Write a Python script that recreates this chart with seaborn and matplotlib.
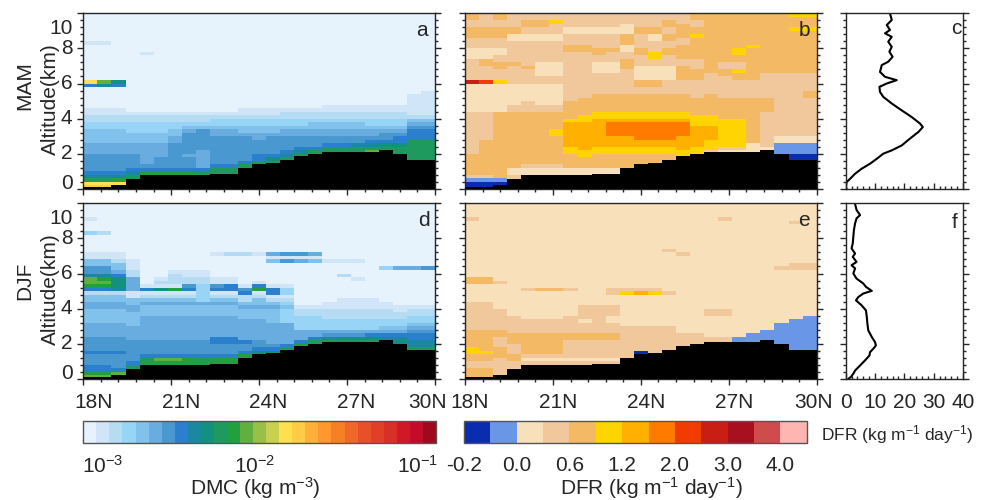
import numpy as np
import pandas as pd
import matplotlib
matplotlib.use("Agg")
import matplotlib.pyplot as plt
import seaborn as sns
from matplotlib.colors import ListedColormap, BoundaryNorm
from matplotlib.ticker import FixedLocator, MultipleLocator
from matplotlib.cm import ScalarMappable

# ---------------------------------------------------------------- data
# Latitude axis / altitude axis labels
lat_ticks = [18, 21, 24, 27, 30]
lat_labels = ["18N", "21N", "24N", "27N", "30N"]
alt_ticks = [0, 2, 4, 6, 8, 10]
alt_labels = ["0", "2", "4", "6", "8", "10"]
dfr_profile_ticks = [0, 10, 20, 30, 40]

# Terrain height (km) of each 0.48-degree column, 18N -> 30N
terrain_km = [0.09, 0.09, 0.23, 0.57, 0.76, 0.76, 0.76, 0.76, 0.76, 0.86,
              0.86, 1.18, 1.43, 1.46, 1.66, 1.85, 1.96, 2.09, 2.09, 2.09,
              2.09, 2.19, 1.96, 1.66, 1.66]

# Colour-class codes per column, bottom (0 km) to top (10 km) in 0.2 km layers,
# run-length written as "code*count".
dmc_mam_cols = [
    "g f a 8 7 6*5 5*3 4*4 3*2 2*2 1*2 0*6 7 f 0*10 1 0*8",
    "g f a 8 7 6*5 5*3 4*4 3*2 2*2 1*2 0*6 8 c 0*10 1 0*8",
    "g f b 8 7 6*5 5*3 4*4 3*2 2*2 1*2 0*6 7 9 0*19",
    "9*3 a 8 7 6*4 5*3 4*3 3*3 2*2 1 0*28",
    "a*4 b 7 6 5*6 4*3 3*3 2*2 1 0*16 1 0*11",
    "a*4 b 7 6*3 5*4 4*3 3*3 2*2 1 0*28",
    "a*4 b 7 6*7 5*2 4*2 3*2 2*2 1 0*28",
    "a*4 b 7 6*3 5 6*6 5 4 3 2*2 1 0*28",
    "a*5 7 5*5 6*6 4 3 2*2 1 0*28",
    "a*6 7 6*8 5*2 4 3*2 2 1 0*28",
    "a*6 7 6*8 5*2 4 3*2 2 1 0*28",
    "a*7 7 6*7 5 4*2 3*2 2 1*2 0*27",
    "a*8 7*2 6*4 5*2 4*2 3*2 2 1*2 0*27",
    "a*8 9 7 6*5 5 4*2 3*2 2 1*2 0*27",
    "a*9 8 7 6*4 5*2 4 3*2 2*2 1 0*27",
    "a*10 8 7 6*3 5*2 4 3*2 2*2 1 0*27",
    "a*11 7 6*3 5*2 4*2 3 2*2 1 0*27",
    "a*12 7 6*2 5*2 4*2 3 2*2 1*2 0*26",
    "a*12 7 6*2 5*2 4*2 3 2*2 1*2 0*26",
    "a*12 8 6*2 5*2 4*2 3 2*2 1*2 0*26",
    "a*10 c a 8 7 6 5*2 4 3*2 2*2 1*2 0*26",
    "a*12 9 7 6*2 5 4 3*2 2*2 1*2 0*26",
    "a*12 9 7*2 6 5 4 3*2 2*2 1*2 0*26",
    "a*14 7*3 6 5 4 2 1*6 0*23",
    "a*14 7*3 6 5 4 2 1*7 0*22",
]

dmc_djf_cols = [
    "c b 7*2 6*3 7 6*4 5*4 4*4 5*2 4*2 2 7 b c*2 8 6*2 4*2 1*2 0*5 3 0*3 1 0*4",
    "c b 7*2 6*3 7 6*4 5*4 4*4 5*2 4*2 2 7 b c b 8 6*2 4*2 1*2 0*5 2 0*8",
    "c*2 7 6*4 7 6*4 5*4 4*4 5*2 4*2 2 8 9*3 7 5 4*2 2 1*2 0*14",
    "a*4 7 6*6 5*4 4*4 5*2 4*2 1*2 5*4 2*2 1*3 0*16",
    "b*5 a 7 6*4 5*7 4*3 5 4 2 1 7 1 0*23",
    "b*5 c 7 6*4 5*7 4*3 5 4 2 1 9 1 2 1 0*21",
    "b*5 c 7 6*4 5*7 4*3 5 4 2 1 b 1 2*3 1 0*19",
    "b*6 7 6*4 5*7 4*3 5 4 2 1 7 6 2*2 1*2 0*19",
    "b*5 a 7 6*4 5*7 4*3 5 3*5 2*2 1*2 0*19",
    "b*6 7 6*3 7*2 5*6 4*3 5 4 2 1 7 6 1*2 0*6 1 0*14",
    "b*6 7 6*3 7*2 5*6 4*3 5 4 2 1 7 7 1*2 0*6 2 0*14",
    "b*7 7 6*2 7 5*6 4*3 5 4 2*2 7 6 1 0*8 2 0*14",
    "9*8 7 6*2 5*6 4*3 5 4*2 2 1 b 7 1 0*7 1 0*14",
    "9*8 7 6 5*6 4*4 5 4 2 1 7*2 1 0*6 4 1 5 0*14",
    "a*9 7 5*6 3*4 4 3 2 1 3*2 1 0*6 6 1 6 0*14",
    "b*10 7 5*3 3*4 2*2 1 0*12 5 1 6 0*14",
    "b*10 a 7 5*2 3*4 2*2 1 0*12 4 1 5 0*14",
    "a*11 8 6 5 3*3 2*3 1*2 0*11 1 0*16",
    "a*11 9 6 5 3*3 2*3 1*3 0*6 2 0*3 1 0*16",
    "a*11 9 6 5 3*3 2*3 1*3 0*5 1 0*4 1 0*16",
    "a*11 9 7 5 3*3 2*3 1*3 0*27",
    "a*11 8 7 5 4 3*2 2*3 1*2 0*9 3 0*18",
    "a*10 9 8 7 5 4 3*2 2*2 1*2 0*10 5 0*18",
    "a*9 8*2 7*2 6 5 4 3*2 2*2 1 0*10 5 0*18",
    "a*9 8*2 7*2 6 5 4 3*2 2*2 1 0*10 6 0*18",
]

dfr_mam_cols = [
    "0*2 1 3 4*6 3*12 2*8 9 3*6 2*3 3*3 4*3 3*2 4*2",
    "0*2 1 3 4*6 4*4 3*8 2*8 8 3*4 4*2 2*3 3*3 4*3 3*2 3*2",
    "0*2 1 4*19 2*8 5 3*3 4*2 3*2 2*2 3*3 4*3 3*2 4*2",
    "3*4 2*2 4*16 3*2 2*6 3*5 4 3*6 2*2 4*2 3*4",
    "3*4 2*2 3 4*15 3*3 2*5 3*4 4 3*7 2*2 3*2 4*2 3*2",
    "3*4 2*2 3 4*15 3*2 2*6 3*2 2*4 3*6 2*2 3*2 4*2 3*2",
    "3*4 2*2 3 4*8 5*2 4*5 3*2 2*6 3*2 2*4 3*6 2*2 3*3 5 3*2",
    "2*6 4*4 5*2 6*7 5 4*5 3*14 4*2 3*3 2*2 3*4",
    "2*6 4*3 5*2 6*8 5 5 4*4 4 3*13 4*2 3*3 2*2 3*4",
    "3*4 2*2 4*4 5*2 6*8 5*2 4*5 3*6 2*3 3*2 4*2 3*4 2*2 3*4",
    "3*4 2*2 4*4 5*2 6*3 7*4 6 5*2 4*5 3*6 2*3 3*3 4 3*4 2*2 3*4",
    "4*10 5*2 6*3 7*4 6 5*2 4*5 3*7 4*3 3*2 2*2 4*3 2*3 3*3",
    "4*10 5*2 6*2 7*5 6 5*2 4*5 3*2 4*2 2*4 3*3 4*2 3*4 4*2 3*4",
    "4*10 5*2 6*2 7*5 6 5*2 4*5 3*2 4*2 2*4 3*2 5*2 3*3 2*2 4*2 3*4",
    "4*10 5*2 6*2 7*5 6 5*2 4*5 3*4 2*4 3*3 4*2 3*2 4*2 3*2 4*2 3*2",
    "5*11 6*4 7*4 6 5*2 4*5 3*4 4*4 3*2 4*4 3*2 4*4 3*3",
    "5*12 6*6 5*3 4*5 3*5 4*3 3*3 4*6 5 4*2 3*2 4*2",
    "3*11 5*3 6*4 5*3 4*6 3*6 4*17",
    "2*11 3 5*8 4*6 3*6 4*2 3*2 4*14",
    "2*11 3 5*8 4*6 3*5 4*2 5 3*2 4*2 5*2 4*10",
    "2*13 4*13 3*5 4*9 5 4*9",
    "2*12 3*10 4*4 3*7 4*17",
    "1*13 2*2 3*18 4*17",
    "0*10 1*3 2*2 3*18 4*12 5 4*3 5",
    "0*10 1*3 2*2 3*11 4*2 3*5 4*12 5 4*3 5",
]

dfr_djf_cols = [
    "4*3 3*2 4*2 5*2 4*5 3*8 2*5 4*2 2*16 3 2*4",
    "4*3 3*2 4*2 5 4*6 3*8 2*5 4*2 2*21",
    "3*6 4*3 3*3 4*2 3*6 2*7 3 2*22",
    "3*5 4*2 3*3 4*3 3*5 2*32",
    "3*5 2 3 4*6 3*4 2*8 3 2*24",
    "3*5 2 3 4*6 3*4 2*8 4 2*24",
    "3*5 2 3 4*6 3*4 2*8 4 2*24",
    "3*5 2 3*5 4*2 3*5 2*7 3 2*24",
    "3*5 2 3*5 4*2 3*3 2 3*4 2*29",
    "3*5 2 3*5 4*2 3*8 2*29",
    "3*5 2 3*5 4*2 3*3 2*2 3*3 2*3 3*2 2*24",
    "3*15 2*9 5 3 2*24",
    "0*8 3*7 2*9 6 3 2*24",
    "3*15 2*9 5 3 2*24",
    "3*15 2*9 3 2*11 3 2*13",
    "3*13 2*22 3 2*14",
    "3*13 2*37",
    "3*12 2*6 3*2 2*30",
    "3*12 2*6 3*2 2*25 3 2*4",
    "1*12 2*38",
    "1*13 2*37",
    "1*14 2*36",
    "1*16 2*15 3 2*18",
    "1*17 2*14 3*2 2*11 3 2*5",
    "1*18 2*13 3*2 2*17",
]

# Area-mean DFR profiles (kg m-1 day-1) against altitude (km)
alt_mam = [10.0, 9.62, 9.33, 9.05, 8.86, 8.66, 8.38, 8.09, 7.81, 7.52,
           7.24, 7.05, 6.66, 6.38, 6.19, 6.0, 5.81, 5.52, 5.24, 4.86,
           4.47, 4.09, 3.71, 3.52, 3.24, 2.86, 2.47, 2.19, 2.0, 1.71,
           1.43, 1.14, 0.86, 0.57, 0.38, 0.09, 0.0]
dfr_mam = [15.1, 15.7, 14.0, 15.1, 13.4, 15.7, 14.5, 15.7, 14.9, 16.0,
           14.5, 12.3, 11.7, 13.4, 17.4, 14.0, 11.5, 11.7, 12.8, 15.7,
           19.1, 22.5, 25.4, 26.3, 24.8, 21.9, 19.1, 15.7, 12.8, 10.6,
           8.3, 5.4, 3.2, 1.5, 0.3, 0.0, 0.3]
alt_djf = [9.96, 9.62, 9.33, 9.14, 8.86, 8.47, 8.09, 7.71, 7.43, 7.14,
           6.95, 6.66, 6.47, 6.29, 6.0, 5.71, 5.43, 5.24, 5.01, 4.86,
           4.66, 4.47, 4.19, 3.9, 3.52, 3.14, 2.76, 2.38, 2.09, 1.9,
           1.71, 1.52, 1.33, 1.05, 0.76, 0.47, 0.29, 0.09, 0.0]
dfr_djf = [3.2, 3.7, 4.9, 3.7, 3.2, 2.8, 2.6, 2.4, 2.0, 3.2,
           2.4, 3.7, 2.0, 3.2, 2.6, 3.7, 6.0, 6.9, 8.9, 6.0,
           4.3, 3.5, 5.4, 6.9, 7.2, 7.4, 7.7, 8.9, 10.0, 10.3,
           9.4, 8.3, 8.1, 6.6, 4.9, 3.2, 2.6, 1.7, 0.9]

# Colour classes
dmc_colors = ["#e6f3fc", "#d0e6f8", "#b6dcf4", "#98d4f6", "#80c2ec", "#68ace0",
              "#4a98d0", "#2a80cc", "#1a88a0", "#14907e", "#1e9a5e", "#22a040",
              "#60b040", "#98c048", "#c8d050", "#ffe050", "#ffcc48", "#ffb03a",
              "#ff9830", "#f88024", "#f06828", "#e85028", "#e04028", "#d83026",
              "#d01828", "#c40c28", "#a00820"]
dfr_colors = ["#0a2db0", "#6a96e8", "#f8e0bb", "#f0c89b", "#f4b964", "#ffd400",
              "#ffb000", "#ff7b00", "#f03c00", "#c81e14", "#a81020", "#d04c4c",
              "#ffb6b0"]
dfr_bounds = [-0.2, -0.1, 0.0, 0.3, 0.6, 0.9, 1.2, 1.6, 2.0, 2.5, 3.0, 3.5, 4.0, 4.5]
dfr_bound_labels = ["-0.2", "", "0.0", "", "0.6", "", "1.2", "", "2.0", "",
                    "3.0", "", "4.0", ""]

# ---------------------------------------------------------------- grid
LAT0, LAT1 = 18.0, 30.0
N_LAT, N_ALT = 25, 50
ALT_TOP = 10.0
DZ = ALT_TOP / N_ALT
lat_centers = LAT0 + (np.arange(N_LAT) + 0.5) * (LAT1 - LAT0) / N_LAT
alt_centers = (np.arange(N_ALT) + 0.5) * DZ

DMC_CODES = "0123456789abcdefghijklmnopq"
DFR_CODES = "0123456789abc"
dmc_bounds = np.logspace(-3, -1, len(dmc_colors) + 1)


def expand_column(spec):
    out = []
    for tok in spec.split():
        if "*" in tok:
            code, n = tok.split("*")
            out.extend([code] * int(n))
        else:
            out.append(tok)
    return out


def column_grid(columns, codes, bounds, geometric):
    bounds = np.asarray(bounds, dtype=float)
    levels = np.empty((N_ALT, N_LAT), dtype=int)
    bad = []
    for i, spec in enumerate(columns):
        seq = expand_column(spec)
        if len(seq) != N_ALT:
            bad.append((i, len(seq)))
        levels[:, i] = [codes.index(c) for c in seq[:N_ALT]]
    if bad:
        raise ValueError(f"column lengths off: {bad}")
    lo, hi = bounds[levels], bounds[levels + 1]
    vals = np.sqrt(lo * hi) if geometric else 0.5 * (lo + hi)
    return pd.DataFrame(vals, index=np.round(alt_centers, 2),
                        columns=np.round(lat_centers, 2))


grid_a = column_grid(dmc_mam_cols, DMC_CODES, dmc_bounds, True)
grid_d = column_grid(dmc_djf_cols, DMC_CODES, dmc_bounds, True)
grid_b = column_grid(dfr_mam_cols, DFR_CODES, dfr_bounds, False)
grid_e = column_grid(dfr_djf_cols, DFR_CODES, dfr_bounds, False)

dmc_cmap = ListedColormap(dmc_colors)
dmc_norm = BoundaryNorm(dmc_bounds, dmc_cmap.N)
dfr_cmap = ListedColormap(dfr_colors)
dfr_norm = BoundaryNorm(dfr_bounds, dfr_cmap.N)

# ---------------------------------------------------------------- figure
sns.set_theme(style="ticks")
plt.rcParams["font.family"] = ["Liberation Sans", "DejaVu Sans"]
plt.rcParams["mathtext.fontset"] = "custom"
plt.rcParams["mathtext.rm"] = "Liberation Sans"
plt.rcParams["mathtext.it"] = "Liberation Sans:italic"
plt.rcParams["mathtext.default"] = "regular"

W, H = 987, 500
INK = "#262626"
FS = 15
fig = plt.figure(figsize=(W / 100, H / 100), dpi=100)


def box(left, top, right, bottom):
    return [left / W, 1 - bottom / H, (right - left) / W, (bottom - top) / H]


def fx(x):
    return x / W


def fy(y):
    return 1 - y / H


FIELD_L, FIELD_R = 83.3, 435.0
FIELD2_L, FIELD2_R = 465.0, 816.7
PROF_L, PROF_R = 845.7, 963.0
ROW1 = (13.3, 188.8)
ROW2 = (203.3, 378.8)
ax_a = fig.add_axes(box(FIELD_L, ROW1[0], FIELD_R, ROW1[1]))
ax_b = fig.add_axes(box(FIELD2_L, ROW1[0], FIELD2_R, ROW1[1]))
ax_c = fig.add_axes(box(PROF_L, ROW1[0], PROF_R, ROW1[1]))
ax_d = fig.add_axes(box(FIELD_L, ROW2[0], FIELD_R, ROW2[1]))
ax_e = fig.add_axes(box(FIELD2_L, ROW2[0], FIELD2_R, ROW2[1]))
ax_f = fig.add_axes(box(PROF_L, ROW2[0], PROF_R, ROW2[1]))


def frame(ax):
    for sp in ax.spines.values():
        sp.set_visible(True)
        sp.set_color(INK)
        sp.set_linewidth(1.0)


def draw_field(ax, grid, cmap, norm):
    sns.heatmap(grid, ax=ax, cmap=cmap, norm=norm, cbar=False,
                xticklabels=False, yticklabels=False)
    ax.set_xlim(0, N_LAT)
    ax.set_ylim(0, N_ALT)
    ax.stairs(np.asarray(terrain_km) / DZ, np.arange(N_LAT + 1), baseline=0,
              fill=True, color="black", zorder=3)
    frame(ax)
    per_deg = N_LAT / (LAT1 - LAT0)
    ax.xaxis.set_major_locator(FixedLocator((np.array(lat_ticks) - LAT0) * per_deg))
    ax.xaxis.set_minor_locator(MultipleLocator(0.6 * per_deg))
    ax.yaxis.set_major_locator(FixedLocator(np.array(alt_ticks) / DZ))
    ax.yaxis.set_minor_locator(MultipleLocator(0.4 / DZ))
    ax.tick_params(which="both", direction="out", left=True, right=True,
                   bottom=True, top=False, color=INK, width=1.0,
                   labelbottom=False, labelleft=False)
    ax.tick_params(which="major", length=4.3)
    ax.tick_params(which="minor", length=2.4)
    ax.set_xlabel("")
    ax.set_ylabel("")


def draw_profile(ax, values, alts, show_x):
    sns.lineplot(x=values, y=alts, ax=ax, sort=False, estimator=None,
                 color="black", linewidth=1.5)
    ax.set_xlim(0, 40)
    ax.set_ylim(0, ALT_TOP)
    frame(ax)
    ax.xaxis.set_major_locator(FixedLocator(dfr_profile_ticks))
    ax.xaxis.set_minor_locator(MultipleLocator(2))
    ax.yaxis.set_major_locator(FixedLocator(alt_ticks))
    ax.yaxis.set_minor_locator(MultipleLocator(0.4))
    ax.tick_params(axis="x", which="both", direction="in", bottom=True,
                   top=False, color=INK, width=1.0, labelsize=FS, pad=10.5)
    ax.tick_params(axis="y", which="both", direction="out", left=True,
                   right=True, color=INK, width=1.0, labelleft=False)
    ax.tick_params(which="major", length=4.3)
    ax.tick_params(which="minor", length=2.4)
    ax.set_xlabel("")
    ax.set_ylabel("")
    ax.tick_params(labelbottom=show_x)


draw_field(ax_a, grid_a, dmc_cmap, dmc_norm)
draw_field(ax_b, grid_b, dfr_cmap, dfr_norm)
draw_field(ax_d, grid_d, dmc_cmap, dmc_norm)
draw_field(ax_e, grid_e, dfr_cmap, dfr_norm)
draw_profile(ax_c, dfr_mam, alt_mam, False)
draw_profile(ax_f, dfr_djf, alt_djf, True)

# Latitude labels under the bottom row; the end labels are nudged so that
# neighbouring panels' labels do not collide.
lat_nudge = {"d": [10, 10, 9, 9, -7], "e": [5, 5, 5, 5, -3]}
for key, (left, right) in [("d", (FIELD_L, FIELD_R)), ("e", (FIELD2_L, FIELD2_R))]:
    for lat, lab, dx in zip(lat_ticks, lat_labels, lat_nudge[key]):
        xpx = left + (lat - LAT0) / (LAT1 - LAT0) * (right - left) + dx
        fig.text(fx(xpx), fy(402), lab, ha="center", va="center", fontsize=FS)

# Altitude labels on the left of the field panels; the end labels sit inside
# the frame height.
alt_nudge = [-5, 0, 0, 0, 0, 15]
for top, bottom in (ROW1, ROW2):
    for alt, lab, dy in zip(alt_ticks, alt_labels, alt_nudge):
        ypx = bottom - alt / ALT_TOP * (bottom - top) + dy
        fig.text(fx(72.5), fy(ypx), lab, ha="right", va="center", fontsize=FS)

# Row titles and panel letters
for txt, x, y in [("MAM", 25, 86), ("Altitude(km)", 50, 99),
                  ("DJF", 25, 281), ("Altitude(km)", 50, 289)]:
    fig.text(fx(x), fy(y), txt, rotation=90, ha="center", va="center",
             fontsize=FS)
for txt, x, y in [("a", 422, 31), ("b", 804, 30), ("c", 956, 29),
                  ("d", 424, 220), ("e", 804, 221), ("f", 955, 223)]:
    fig.text(fx(x), fy(y), txt, ha="center", va="center", fontsize=FS)

# Colour bars
cax1 = fig.add_axes(box(83.3, 420.5, 436.0, 443.3))
cb1 = fig.colorbar(ScalarMappable(norm=dmc_norm, cmap=dmc_cmap), cax=cax1,
                   orientation="horizontal")
cb1.set_ticks(dmc_bounds, labels=[""] * len(dmc_bounds))
cax2 = fig.add_axes(box(464.0, 420.5, 806.7, 443.3))
cb2 = fig.colorbar(ScalarMappable(norm=dfr_norm, cmap=dfr_cmap), cax=cax2,
                   orientation="horizontal")
cb2.set_ticks(dfr_bounds, labels=dfr_bound_labels)
for cb in (cb1, cb2):
    cb.minorticks_off()
    cb.outline.set_edgecolor("#555555")
    cb.outline.set_linewidth(1.0)
    cb.ax.tick_params(axis="x", direction="in", length=4.3, width=0.8,
                      color=INK, bottom=True, top=False, labelsize=FS, pad=9)

for txt, x, ha in [("$10^{-3}$", 82.0, "left"), ("$10^{-2}$", 255.0, "center"),
                   ("$10^{-1}$", 438.0, "right")]:
    fig.text(fx(x), fy(466), txt, ha=ha, va="center", fontsize=FS)

fig.text(fx(255), fy(488), "DMC (kg m$^{-3}$)", ha="center", va="center",
         fontsize=FS)
fig.text(fx(651), fy(488), "DFR (kg m$^{-1}$ day$^{-1}$)", ha="center",
         va="center", fontsize=FS)
fig.text(fx(897), fy(435), "DFR (kg m$^{-1}$ day$^{-1}$)", ha="center",
         va="center", fontsize=12.5)

fig.savefig("out.png", dpi=100)
